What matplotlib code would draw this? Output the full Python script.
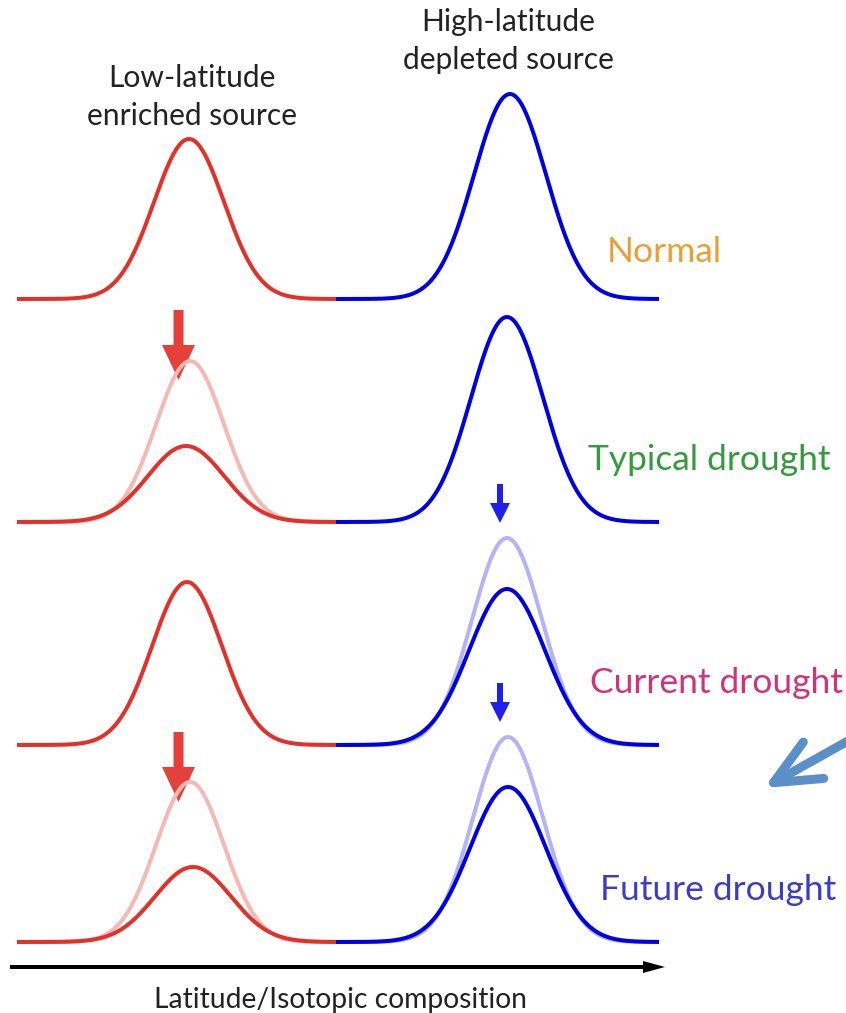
import numpy as np
import matplotlib
matplotlib.use('Agg')
import matplotlib.pyplot as plt
from matplotlib.patches import FancyArrowPatch

plt.rcParams['font.family'] = ['Lato', 'DejaVu Sans']

# scenarios (top to bottom) and the source curves in each row
scenarios = ['Normal', 'Typical drought', 'Current drought', 'Future drought']
label_colors = ['#e8a032', '#35993d', '#d4307c', '#3c3cc4']

red_centre = [189, 186, 187, 193]
red_height = [160, 76, 163, 75]
red_sigma = [35, 38, 35, 38]
red_ref_centre = [None, 190, None, 190]
red_ref_height = [None, 161, None, 160]
red_ref_sigma = 34

blue_centre = [510, 507, 507, 508]
blue_height = [205, 205, 156, 155]
blue_sigma = [36, 36, 38, 38]
blue_ref_height = [None, None, 207, 205]
blue_ref_sigma = 35

W, H = 846, 1013
baselines = [H - 299, H - 522, H - 745, H - 942]
label_y = [H - 252, H - 460, H - 683, H - 890]
label_x = [607, 588, 590, 600]

RED = '#e3312a'
BLUE = '#0000e6'
RED_FADE = '#f4b9b3'
BLUE_FADE = '#b3b3f5'
lw = 4 * 72 / 100

fig = plt.figure(figsize=(W / 100, H / 100), dpi=100)
ax = fig.add_axes([0, 0, 1, 1])
ax.set_xlim(0, W)
ax.set_ylim(0, H)
ax.axis('off')

def gauss(x, c, a, s):
    return a * np.exp(-0.5 * ((x - c) / s) ** 2)

xr = np.linspace(17, 336, 400)
xb = np.linspace(336, 659, 400)

for i in range(4):
    y0 = baselines[i]
    # faded reference curves (normal state)
    if red_ref_height[i] is not None:
        ax.plot(xr, y0 + gauss(xr, red_ref_centre[i], red_ref_height[i], red_ref_sigma),
                color=RED_FADE, lw=lw, solid_capstyle='butt')
    if blue_ref_height[i] is not None:
        ax.plot(xb, y0 + gauss(xb, blue_centre[i], blue_ref_height[i], blue_ref_sigma),
                color=BLUE_FADE, lw=lw, solid_capstyle='butt')
    ax.plot(xr, y0 + gauss(xr, red_centre[i], red_height[i], red_sigma[i]),
            color=RED, lw=lw, solid_capstyle='butt')
    ax.plot(xb, y0 + gauss(xb, blue_centre[i], blue_height[i], blue_sigma[i]),
            color=BLUE, lw=lw, solid_capstyle='butt')
    ax.text(label_x[i], label_y[i], scenarios[i], color=label_colors[i],
            fontsize=25.5, ha='left', va='center')

# downward arrows showing the reduced source
for yt in [H - 310, H - 732]:
    ax.arrow(178.5, yt, 0, -70, width=10, head_width=33, head_length=35,
             length_includes_head=True, color='#e5403a', lw=0)
for yt in [H - 484, H - 683]:
    ax.arrow(500, yt, 0, -39, width=6, head_width=20, head_length=20,
             length_includes_head=True, color='#2020ee', lw=0)

# pointer arrow on the right
ax.add_patch(FancyArrowPatch((880, H - 723), (764, H - 788),
                             arrowstyle='->,head_length=2.2,head_width=1.0',
                             color='#5b8fc8', lw=6.5, capstyle='round',
                             joinstyle='round', mutation_scale=15,
                             shrinkA=0, shrinkB=0))

# x axis
ax.arrow(10, H - 967, 655, 0, width=4, head_width=12, head_length=22,
         length_includes_head=True, color='black', lw=0)

ax.text(192, H - 97, 'Low-latitude\nenriched source', ha='center', va='center',
        fontsize=21.6, color='#222222', linespacing=1.4)
ax.text(508, H - 41, 'High-latitude\ndepleted source', ha='center', va='center',
        fontsize=21.6, color='#222222', linespacing=1.4)
ax.text(340, H - 1000, 'Latitude/Isotopic composition', ha='center',
        va='center', fontsize=20.3, color='#222222')

fig.savefig('out.png', dpi=100)
